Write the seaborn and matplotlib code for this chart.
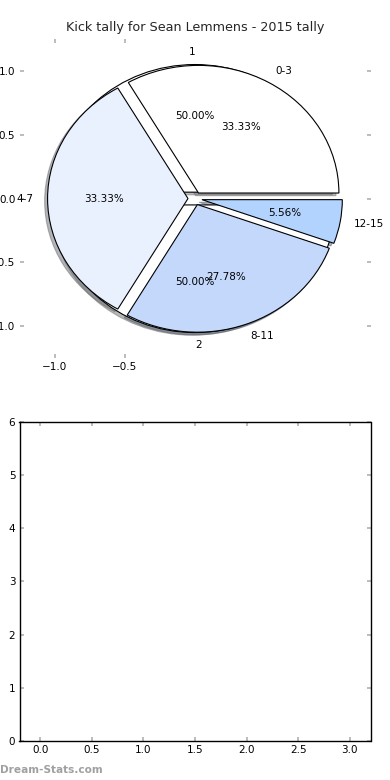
import matplotlib
matplotlib.use('Agg')
import matplotlib.pyplot as plt
import seaborn as sns

# kick tally data
tally_labels = ['0-3', '4-7', '8-11', '12-15']
tally_counts = [6, 6, 5, 1]
tally_colors = ['#ffffff', '#eaf1fe', '#c4d8fc', '#b3d3ff']

half_labels = ['1', '2']
half_counts = [1, 1]

pie_xticks = [-1.0, -0.5]
pie_yticks = [-1.0, -0.5, 0.0, 0.5, 1.0]
bar_xticks = [0.0, 0.5, 1.0, 1.5, 2.0, 2.5, 3.0]
bar_yticks = [0, 1, 2, 3, 4, 5, 6]

sns.set_theme(style="white")
plt.rcParams['font.family'] = ['DejaVu Sans']
plt.rcParams['axes.unicode_minus'] = True

fig, (ax1, ax2) = plt.subplots(2, 1, figsize=(3.9, 7.8), dpi=100)
fig.subplots_adjust(left=0.05, right=0.95, top=0.95, bottom=0.05, hspace=0.2)

txt = {'fontsize': 7.5, 'color': 'black'}
wp = {'linewidth': 0.8, 'edgecolor': 'black'}
shadow = {'ox': -0.015, 'oy': -0.015, 'shade': 0.55}

# halves pie underneath
ax1.pie(half_counts, labels=half_labels, colors=['#ffffff', '#ffffff'],
        explode=[0.05, 0.05], autopct='%1.2f%%', shadow=shadow,
        wedgeprops=wp, textprops=txt)
# tally pie on top
ax1.pie(tally_counts, labels=tally_labels, colors=tally_colors,
        explode=[0.05, 0.05, 0.05, 0.05], autopct='%1.2f%%', shadow=shadow,
        wedgeprops=wp, textprops=txt)
ax1.set_aspect('auto')
ax1.set_xlim(-1.25, 1.25)
ax1.set_ylim(-1.25, 1.25)
ax1.set_xticks(pie_xticks)
ax1.set_yticks(pie_yticks)
ax1.set_frame_on(False)
ax1.set_title('Kick tally for Sean Lemmens - 2015 tally', fontsize=9.2)

ax2.set_xlim(-0.2, 3.2)
ax2.set_ylim(0, 6)
ax2.set_xticks(bar_xticks)
ax2.set_yticks(bar_yticks)
for s in ax2.spines.values():
    s.set_visible(True)
    s.set_color('black')
    s.set_linewidth(1.0)

for ax in (ax1, ax2):
    ax.tick_params(direction='in', length=3, width=1.2, color='#b0b0b0',
                   labelsize=7.5, labelcolor='black', pad=3,
                   top=True, right=True, bottom=True, left=True)

fig.text(0.0, 0.006, 'Dream-Stats.com', fontsize=7.6, fontweight='bold',
         color='#a0a0a0', ha='left', va='bottom')

fig.savefig('out.png', dpi=100)
